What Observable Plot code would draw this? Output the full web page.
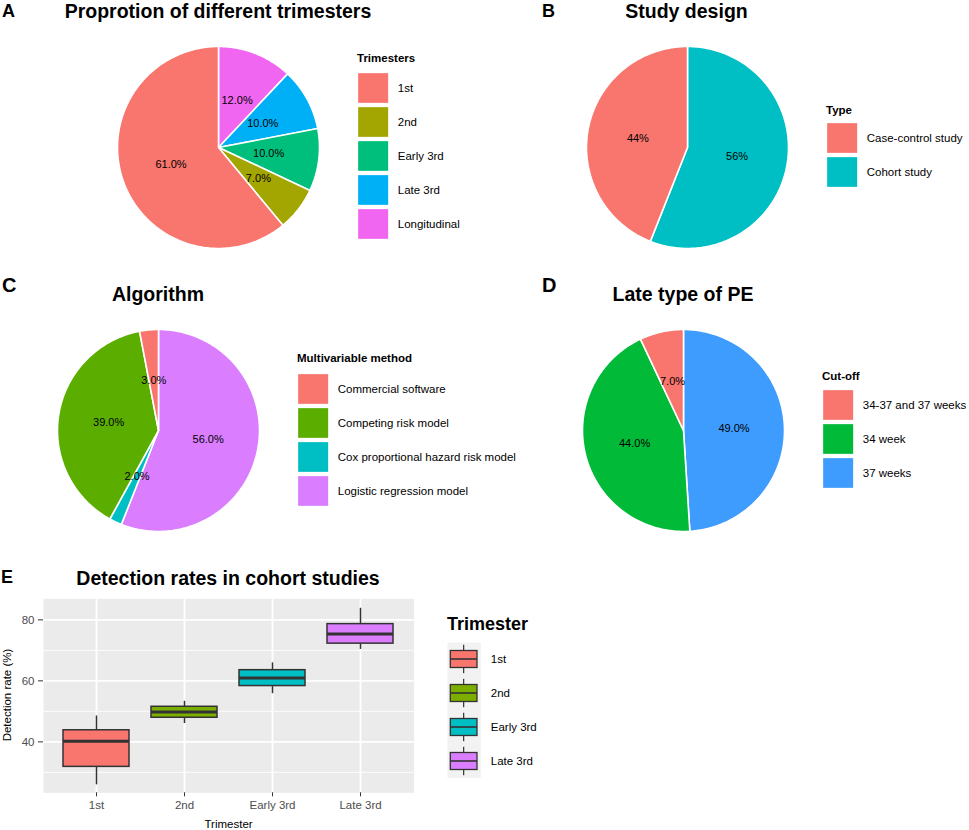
<!DOCTYPE html>
<html><head><meta charset="utf-8">
<script src="https://cdn.jsdelivr.net/npm/d3@7"></script>
<script src="https://cdn.jsdelivr.net/npm/@observablehq/plot@0.6"></script>
<style>
body{margin:0;background:#fff;}
#root{position:relative;width:969px;height:830px;overflow:hidden;font-family:"Liberation Sans",Arial,sans-serif;}
.t{position:absolute;white-space:nowrap;line-height:1;}
</style></head><body><div id="root"></div>
<script>
// ---------- data ----------
const trimesterCats = ["1st", "2nd", "Early 3rd", "Late 3rd", "Longitudinal"];
const trimesterPct = [61, 7, 10, 10, 12];
const trimesterColors = ["#F8766D", "#A3A500", "#00BF7D", "#00B0F6", "#F066F0"];

const designCats = ["Case-control study", "Cohort study"];
const designPct = [44, 56];
const designColors = ["#F8766D", "#00BFC4"];

const methodCats = ["Commercial software", "Competing risk model", "Cox proportional hazard risk model", "Logistic regression model"];
const methodPct = [3, 39, 2, 56];
const methodColors = ["#F8766D", "#5BAE00", "#00BFC4", "#DA7EFF"];

const cutoffCats = ["34-37 and 37 weeks", "34 week", "37 weeks"];
const cutoffPct = [7, 44, 49];
const cutoffColors = ["#F8766D", "#00BA38", "#3F9CFF"];

const boxCats = ["1st", "2nd", "Early 3rd", "Late 3rd"];
const boxLow = [25.9, 46.0, 55.8, 70.3];
const boxQ1 = [31.8, 47.9, 58.3, 72.2];
const boxMed = [40.2, 49.8, 60.9, 75.4];
const boxQ3 = [43.8, 51.5, 63.5, 78.6];
const boxHigh = [48.5, 53.3, 65.9, 83.8];
const boxColors = ["#F8766D", "#7CAE00", "#00BFC4", "#DA7EFF"];
const boxYTicks = [40, 60, 80];
const boxYMinor = [30, 50, 70];

// ---------- helpers ----------
const FONT = '"Liberation Sans", Arial, sans-serif';
const root = document.getElementById("root");
function txt(s, x, base, size, weight, anchor, color) {
  const d = document.createElement("div");
  d.className = "t";
  d.textContent = s;
  d.style.fontSize = size + "px";
  d.style.fontWeight = weight || "normal";
  d.style.color = color || "#000";
  d.style.top = (base - 0.8465 * size) + "px";
  d.style.left = x + "px";
  if (anchor === "middle") d.style.transform = "translateX(-50%)";
  root.appendChild(d);
}
function place(el, x, y) {
  el.style.position = "absolute";
  el.style.left = x + "px";
  el.style.top = y + "px";
  root.appendChild(el);
}

const R = 101, PAD = 3;
function pie(cats, pct, colors, decimals, cx, cy) {
  const slices = [], labels = [];
  let acc = 0;
  for (let i = cats.length - 1; i >= 0; i--) {
    const a0 = acc / 100, a1 = (acc + pct[i]) / 100;
    acc += pct[i];
    slices.push({cat: cats[i], x: 0, y: 0});
    const n = Math.max(2, Math.ceil((a1 - a0) * 360));
    for (let k = 0; k <= n; k++) {
      const t = 2 * Math.PI * (a0 + (a1 - a0) * k / n);
      slices.push({cat: cats[i], x: Math.sin(t), y: Math.cos(t)});
    }
    const tm = Math.PI * (a0 + a1);
    labels.push({x: 0.5 * Math.sin(tm), y: 0.5 * Math.cos(tm), text: pct[i].toFixed(decimals) + "%"});
  }
  const size = 2 * (R + PAD);
  const chart = Plot.plot({
    width: size, height: size, margin: PAD,
    x: {domain: [-1, 1], axis: null},
    y: {domain: [-1, 1], axis: null},
    color: {domain: cats, range: colors},
    style: {fontFamily: FONT, background: "transparent", overflow: "visible"},
    marks: [
      Plot.line(slices, {x: "x", y: "y", z: "cat", fill: "cat", stroke: "white", strokeWidth: 1.6, curve: "linear-closed"}),
      Plot.text(labels, {x: "x", y: "y", text: "text", fontSize: 11, fill: "#000"})
    ]
  });
  place(chart, cx - R - PAD, cy - R - PAD);
}

function legend(cats, colors, x, y, title, titleBase) {
  txt(title, x - 1, titleBase, 11.5, "bold");
  const step = 34.3, lab = 230;
  const chart = Plot.plot({
    width: step + lab, height: step * cats.length,
    marginLeft: 0, marginTop: 0, marginBottom: 0, marginRight: lab,
    y: {domain: cats, axis: null, padding: 0},
    color: {domain: cats, range: colors},
    style: {fontFamily: FONT, background: "transparent", fontSize: "11.5px"},
    marks: [
      Plot.cell(cats, {y: d => d, fill: d => d, inset: 2.15}),
      Plot.text(cats, {y: d => d, text: d => d, frameAnchor: "right", textAnchor: "start", dx: 7, fontSize: 11.5, fill: "#000"})
    ]
  });
  place(chart, x - 2.15, y - 2.15);
}

// ---------- panel A ----------
txt("A", 2, 17.5, 18, "bold");
txt("Proprotion of different trimesters", 218, 18.3, 19.5, "bold", "middle");
pie(trimesterCats, trimesterPct, trimesterColors, 1, 218, 147);
legend(trimesterCats, trimesterColors, 358, 72, "Trimesters", 63);

// ---------- panel B ----------
txt("B", 542, 17.5, 18, "bold");
txt("Study design", 686.5, 18.3, 19.5, "bold", "middle");
pie(designCats, designPct, designColors, 0, 686.5, 147);
legend(designCats, designColors, 827, 123, "Type", 115);

// ---------- panel C ----------
txt("C", 2, 292, 20, "bold");
txt("Algorithm", 158, 302, 19.5, "bold", "middle");
pie(methodCats, methodPct, methodColors, 1, 158, 430);
legend(methodCats, methodColors, 298, 373, "Multivariable method", 363);

// ---------- panel D ----------
txt("D", 542, 292, 20, "bold");
txt("Late type of PE", 683, 302, 19.5, "bold", "middle");
pie(cutoffCats, cutoffPct, cutoffColors, 1, 683, 430);
legend(cutoffCats, cutoffColors, 823, 390, "Cut-off", 381);

// ---------- panel E ----------
txt("E", 1, 583.5, 18, "bold");
txt("Detection rates in cohort studies", 228, 585.5, 19.5, "bold", "middle");

const boxData = boxCats.map((c, i) => ({cat: c, lo: boxLow[i], q1: boxQ1[i], med: boxMed[i], q3: boxQ3[i], hi: boxHigh[i]}));
const boxChart = Plot.plot({
  width: 420, height: 240,
  marginTop: 8.3, marginBottom: 37.7, marginLeft: 43, marginRight: 6.4,
  x: {domain: boxCats, type: "band", paddingInner: 0.25, paddingOuter: 0.225, label: null},
  y: {domain: [23.3, 86.9], label: null},
  color: {domain: boxCats, range: boxColors},
  style: {fontFamily: FONT, background: "transparent", fontSize: "11.5px", color: "#4d4d4d"},
  marks: [
    Plot.frame({fill: "#ebebeb", stroke: "none"}),
    Plot.gridY({ticks: boxYMinor, stroke: "white", strokeOpacity: 1, strokeWidth: 0.9}),
    Plot.gridY({ticks: boxYTicks, stroke: "white", strokeOpacity: 1, strokeWidth: 1.8}),
    Plot.gridX({stroke: "white", strokeOpacity: 1, strokeWidth: 1.8}),
    Plot.ruleX(boxData, {x: "cat", y1: "lo", y2: "hi", stroke: "#333", strokeWidth: 1.5}),
    Plot.barY(boxData, {x: "cat", y1: "q1", y2: "q3", fill: "cat", stroke: "#333", strokeWidth: 1.5}),
    Plot.tickY(boxData, {x: "cat", y: "med", stroke: "#333", strokeWidth: 3}),
    Plot.axisX({tickSize: 4, tickPadding: 4, stroke: "#333", fill: "#4d4d4d", fontSize: 11.5, label: null}),
    Plot.axisY({ticks: boxYTicks, tickSize: 5, tickPadding: 4, stroke: "#333", fill: "#4d4d4d", fontSize: 11.5, label: null})
  ]
});
place(boxChart, 0, 590);

// axis titles
txt("Trimester", 228.6, 828.5, 11.5, "normal", "middle");
(function () {
  const d = document.createElement("div");
  d.className = "t";
  d.textContent = "Detection rate (%)";
  d.style.fontSize = "11.5px";
  d.style.left = "8px";
  d.style.top = "695px";
  d.style.transform = "translate(-50%,-50%) rotate(-90deg)";
  root.appendChild(d);
})();

// legend E
txt("Trimester", 447, 630, 18, "bold");
const eStep = 34.15;
const eLegend = Plot.plot({
  width: 33.3 + 100, height: eStep * boxCats.length,
  marginLeft: 0, marginTop: 0, marginBottom: 0, marginRight: 100,
  y: {domain: boxCats, axis: null, padding: 0},
  color: {domain: boxCats, range: boxColors},
  style: {fontFamily: FONT, background: "transparent", fontSize: "11.5px"},
  marks: [
    Plot.frame({fill: "#f2f2f2", stroke: "none"}),
    Plot.cell(boxCats, {y: d => d, fill: "#333", insetLeft: 16.05, insetRight: 16.05, insetTop: 2.8, insetBottom: 2.8}),
    Plot.cell(boxCats, {y: d => d, fill: d => d, stroke: "#333", strokeWidth: 1.3, insetLeft: 3.3, insetRight: 3.3, insetTop: 8.5, insetBottom: 8.5}),
    Plot.cell(boxCats, {y: d => d, fill: "#333", insetLeft: 3.3, insetRight: 3.3, insetTop: 16.2, insetBottom: 16.2}),
    Plot.text(boxCats, {y: d => d, text: d => d, frameAnchor: "right", textAnchor: "start", dx: 10, fontSize: 11.5, fill: "#000"})
  ]
});
place(eLegend, 446.7, 641.7);
</script>
</body></html>
